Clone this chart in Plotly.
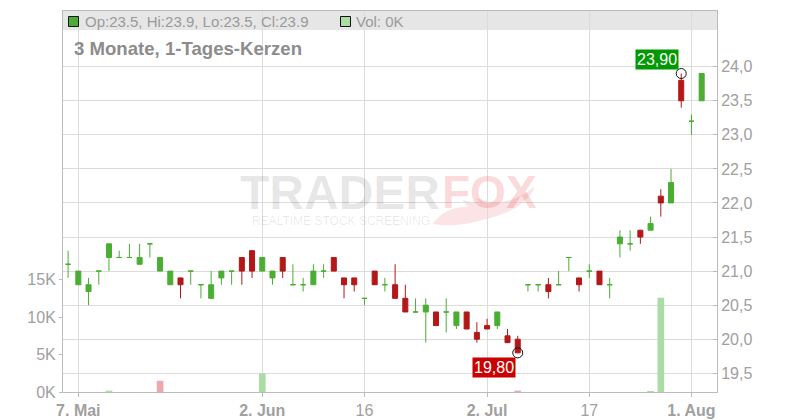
import plotly.graph_objects as go

# ---------------- data ----------------
dates = [
    "2025-05-06", "2025-05-07", "2025-05-08", "2025-05-09", "2025-05-12", "2025-05-13",
    "2025-05-14", "2025-05-15", "2025-05-16", "2025-05-19", "2025-05-20", "2025-05-21",
    "2025-05-22", "2025-05-23", "2025-05-26", "2025-05-27", "2025-05-28", "2025-05-29",
    "2025-05-30", "2025-06-02", "2025-06-03", "2025-06-04", "2025-06-05", "2025-06-06",
    "2025-06-09", "2025-06-10", "2025-06-11", "2025-06-12", "2025-06-13", "2025-06-16",
    "2025-06-17", "2025-06-18", "2025-06-19", "2025-06-20", "2025-06-23", "2025-06-24",
    "2025-06-25", "2025-06-26", "2025-06-27", "2025-06-30", "2025-07-01", "2025-07-02",
    "2025-07-03", "2025-07-04", "2025-07-07", "2025-07-08", "2025-07-09", "2025-07-11",
    "2025-07-14", "2025-07-15", "2025-07-16", "2025-07-17", "2025-07-18", "2025-07-21",
    "2025-07-22", "2025-07-23", "2025-07-25", "2025-07-28", "2025-07-29", "2025-07-30",
    "2025-07-31", "2025-08-01", "2025-08-04",
]
opens = [21.1, 20.8, 20.7, 21.0, 21.2, 21.2, 21.2, 21.1, 21.4, 21.0, 20.8, 20.9,
         21.0, 20.8, 20.6, 20.9, 21.0, 21.2, 21.3, 21.0, 20.9, 21.2, 20.8, 20.8,
         20.8, 21.0, 21.2, 20.9, 20.9, 20.6, 21.0, 20.8, 20.8, 20.6, 20.4, 20.4,
         20.4, 20.4, 20.2, 20.4, 20.1, 20.2, 20.2, 20.05, 20.0, 20.8, 20.8, 20.8,
         20.8, 21.2, 20.9, 21.0, 21.0, 20.8, 21.4, 21.4, 21.6, 21.6, 22.1, 22.0,
         23.8, 23.2, 23.5]
highs = [21.3, 21.0, 20.9, 21.0, 21.4, 21.3, 21.4, 21.4, 21.4, 21.2, 21.0, 20.9,
         21.0, 20.8, 21.0, 21.0, 21.0, 21.2, 21.3, 21.2, 21.0, 21.2, 21.1, 20.9,
         21.1, 21.1, 21.2, 20.9, 20.9, 20.6, 21.0, 20.9, 21.1, 20.8, 20.6, 20.6,
         20.4, 20.6, 20.4, 20.4, 20.25, 20.3, 20.4, 20.15, 20.05, 20.8, 20.8, 20.9,
         21.0, 21.2, 20.9, 21.1, 21.0, 20.9, 21.6, 21.6, 21.6, 21.8, 22.2, 22.5,
         23.9, 23.3, 23.9]
lows = [20.9, 20.8, 20.5, 20.8, 21.0, 21.2, 21.2, 21.1, 21.2, 21.0, 20.8, 20.6,
        20.8, 20.6, 20.6, 20.8, 20.8, 20.8, 20.9, 21.0, 20.8, 20.9, 20.8, 20.7,
        20.8, 20.9, 21.0, 20.6, 20.7, 20.5, 20.8, 20.7, 20.6, 20.4, 20.4, 19.95,
        20.2, 20.1, 20.15, 20.15, 19.95, 20.15, 20.15, 19.95, 19.8, 20.7, 20.7, 20.6,
        20.8, 21.0, 20.7, 20.9, 20.8, 20.6, 21.2, 21.3, 21.4, 21.6, 21.8, 22.0,
        23.4, 23.0, 23.5]
closes = [21.1, 21.0, 20.8, 21.0, 21.4, 21.2, 21.2, 21.2, 21.4, 21.2, 21.0, 20.8,
          21.0, 20.8, 20.8, 21.0, 21.0, 21.0, 21.0, 21.2, 21.0, 21.0, 20.8, 20.8,
          21.0, 21.0, 21.0, 20.8, 20.8, 20.6, 20.8, 20.8, 20.6, 20.4, 20.4, 20.5,
          20.2, 20.4, 20.4, 20.15, 20.0, 20.15, 20.4, 19.95, 19.8, 20.8, 20.8, 20.7,
          20.8, 21.2, 20.8, 21.0, 20.8, 20.8, 21.5, 21.4, 21.5, 21.7, 22.0, 22.3,
          23.5, 23.2, 23.9]
volumes = [0, 0, 0, 0, 180, 0, 0, 0, 0, 1500, 0, 0,
           0, 0, 0, 0, 0, 0, 0, 2500, 0, 0, 0, 0,
           0, 0, 0, 0, 0, 0, 0, 0, 0, 0, 0, 0,
           0, 0, 0, 0, 0, 0, 0, 0, 180, 0, 0, 0,
           0, 0, 0, 0, 0, 0, 0, 0, 0, 150, 12600, 0,
           0, 0, 0]

tick_dates = ["2025-05-07", "2025-06-02", "2025-06-16", "2025-07-02", "2025-07-17", "2025-08-01"]
tick_labels = ["<b>7. Mai</b>", "<b>2. Jun</b>", "16", "<b>2. Jul</b>", "17", "<b>1. Aug</b>"]
price_ticks = [19.5, 20.0, 20.5, 21.0, 21.5, 22.0, 22.5, 23.0, 23.5, 24.0]
vol_ticks = [0, 5000, 10000, 15000]
vol_tick_labels = ["0K", "5K", "10K", "15K"]
title_text = "3 Monate, 1-Tages-Kerzen"

# ---------------- style ----------------
GREEN = "#4aae33"
RED = "#b21818"
VOL_GREEN = "#acdca6"
VOL_RED = "#eea7af"
TXT = "#a0a0a0"
GRID = "#dcdcdc"
AXIS = "#bbbbbb"
FONT = "Liberation Sans, Arial, sans-serif"

L, R, T, B = 63, 717, 11, 392
W, H = R - L, B - T


def px(x):
    return (x - L) / W


def py(y):
    return (B - y) / H


n = len(dates)
up_idx = [i for i in range(n) if closes[i] >= opens[i]]
dn_idx = [i for i in range(n) if closes[i] < opens[i]]


def sub(arr, idx):
    return [arr[i] for i in idx]


vol_colors = []
for i in range(n):
    prev = closes[i - 1] if i > 0 else closes[i]
    vol_colors.append(VOL_GREEN if closes[i] >= prev else VOL_RED)

fig = go.Figure()

fig.add_trace(go.Bar(
    x=dates, y=volumes, marker=dict(color=vol_colors, line=dict(width=0)),
    width=0.65, yaxis="y", hoverinfo="skip", showlegend=False,
))

for idx, col in ((up_idx, GREEN), (dn_idx, RED)):
    fig.add_trace(go.Candlestick(
        x=sub(dates, idx), open=sub(opens, idx), high=sub(highs, idx),
        low=sub(lows, idx), close=sub(closes, idx),
        increasing=dict(line=dict(color=col, width=1), fillcolor=col),
        decreasing=dict(line=dict(color=col, width=1), fillcolor=col),
        whiskerwidth=0, yaxis="y2", showlegend=False, hoverinfo="skip",
    ))

hi_i = max(range(n), key=lambda i: highs[i])
lo_i = min(range(n), key=lambda i: lows[i])
fig.add_trace(go.Scatter(
    x=[dates[hi_i], dates[lo_i]], y=[highs[hi_i], lows[lo_i]], mode="markers",
    marker=dict(size=10, color="rgba(0,0,0,0)", line=dict(color="#111111", width=1)),
    yaxis="y2", showlegend=False, hoverinfo="skip",
))


def fmt(v, d):
    return f"{v:.{d}f}".replace(".", ",")


annotations = [
    dict(x=dates[hi_i], y=highs[hi_i], xref="x", yref="y2", text=fmt(highs[hi_i], 2),
         showarrow=False, xanchor="right", yanchor="bottom", xshift=-2, yshift=4,
         bgcolor="#009900", borderpad=1, font=dict(family=FONT, size=16, color="white")),
    dict(x=dates[lo_i], y=lows[lo_i], xref="x", yref="y2", text=fmt(lows[lo_i], 2),
         showarrow=False, xanchor="right", yanchor="top", xshift=-2, yshift=-4,
         bgcolor="#cc0000", borderpad=1, font=dict(family=FONT, size=16, color="white")),
    dict(x=px(71.5), y=py(48), xref="paper", yref="paper", text="<b>" + title_text + "</b>",
         showarrow=False, xanchor="left", yanchor="middle",
         font=dict(family=FONT, size=18.6, color="#8c8c8c")),
    dict(x=px(83), y=py(21), xref="paper", yref="paper",
         text=f"Op:{opens[-1]}, Hi:{highs[-1]}, Lo:{lows[-1]}, Cl:{closes[-1]}",
         showarrow=False, xanchor="left", yanchor="middle",
         font=dict(family=FONT, size=15, color="#9a9a9a")),
    dict(x=px(354), y=py(21), xref="paper", yref="paper",
         text=f"Vol: {round(volumes[-1] / 1000)}K",
         showarrow=False, xanchor="left", yanchor="middle",
         font=dict(family=FONT, size=15, color="#9a9a9a")),
    # watermark
    dict(x=px(238), y=py(192), xref="paper", yref="paper", text="<b>TRADER</b>",
         showarrow=False, xanchor="left", yanchor="middle",
         font=dict(family=FONT, size=48, color="rgba(0,0,0,0.10)")),
    dict(x=px(440), y=py(192), xref="paper", yref="paper", text="<b>FOX</b>",
         showarrow=False, xanchor="left", yanchor="middle",
         font=dict(family=FONT, size=46, color="rgba(235,60,70,0.20)")),
    dict(x=px(250), y=py(221), xref="paper", yref="paper", text="REALTIME STOCK SCREENING",
         showarrow=False, xanchor="left", yanchor="middle",
         font=dict(family=FONT, size=12, color="rgba(0,0,0,0.09)")),
]

tail = ("M {} {} Q {} {} {} {} L {} {} L {} {} L {} {} L {} {} Q {} {} {} {} "
        "Q {} {} {} {} Q {} {} {} {} Z").format(
    px(433), py(224), px(445), py(206), px(468), py(207),
    px(462), py(200), px(480), py(204), px(476), py(198), px(495), py(203),
    px(520), py(200), px(535), py(186),
    px(527), py(210), px(482), py(220),
    px(455), py(228), px(433), py(224))

shapes = [
    dict(type="rect", xref="paper", yref="paper", x0=0, x1=1, y0=py(30), y1=1,
         fillcolor="#e6e6e6", line=dict(width=0), layer="below"),
    dict(type="rect", xref="paper", yref="paper", x0=px(68.5), x1=px(78.5),
         y0=py(26.5), y1=py(16.5), fillcolor=GREEN, line=dict(color="#111111", width=1)),
    dict(type="rect", xref="paper", yref="paper", x0=px(340.5), x1=px(350.5),
         y0=py(26.5), y1=py(16.5), fillcolor=VOL_GREEN, line=dict(color="#111111", width=1)),
    dict(type="path", xref="paper", yref="paper", path=tail,
         fillcolor="rgba(235,60,70,0.14)", line=dict(width=0), layer="below"),
]

fig.update_layout(
    template="none",
    width=800, height=420,
    margin=dict(l=L, r=800 - R, t=T, b=420 - B, pad=0, autoexpand=False),
    paper_bgcolor="white", plot_bgcolor="white",
    font=dict(family=FONT, size=16, color=TXT),
    separators=",.",
    boxgap=0.3,
    showlegend=False,
    hovermode=False,
    annotations=annotations,
    shapes=shapes,
    xaxis=dict(
        type="category", range=[-0.5, n + 0.5], automargin=False,
        tickmode="array", tickvals=tick_dates, ticktext=tick_labels,
        showgrid=True, gridcolor=GRID, gridwidth=1,
        showline=True, linecolor=AXIS, linewidth=1, mirror=True,
        ticks="outside", ticklen=4, tickcolor=AXIS,
        tickfont=dict(family=FONT, size=16, color=TXT),
        rangeslider=dict(visible=False), fixedrange=True,
    ),
    yaxis=dict(
        side="left", range=[0, 50900], automargin=False, fixedrange=True,
        tickmode="array", tickvals=vol_ticks, ticktext=vol_tick_labels,
        showgrid=False, zeroline=False,
        showline=True, linecolor=AXIS, linewidth=1,
        ticks="outside", ticklen=3, tickcolor=AXIS,
        tickfont=dict(family=FONT, size=16, color=TXT),
    ),
    yaxis2=dict(
        overlaying="y", side="right", range=[19.2255, 24.8175], automargin=False,
        fixedrange=True,
        tickmode="array", tickvals=price_ticks, tickformat=".1f",
        showgrid=True, gridcolor=GRID, gridwidth=1, zeroline=False,
        showline=True, linecolor=AXIS, linewidth=1,
        ticks="inside", ticklen=4, tickcolor=AXIS,
        tickfont=dict(family=FONT, size=16, color=TXT),
    ),
)

fig.write_html(
    "out.html",
    config={"displayModeBar": False, "staticPlot": True},
    post_script="document.body.style.margin='0';document.body.style.padding='0';",
)
